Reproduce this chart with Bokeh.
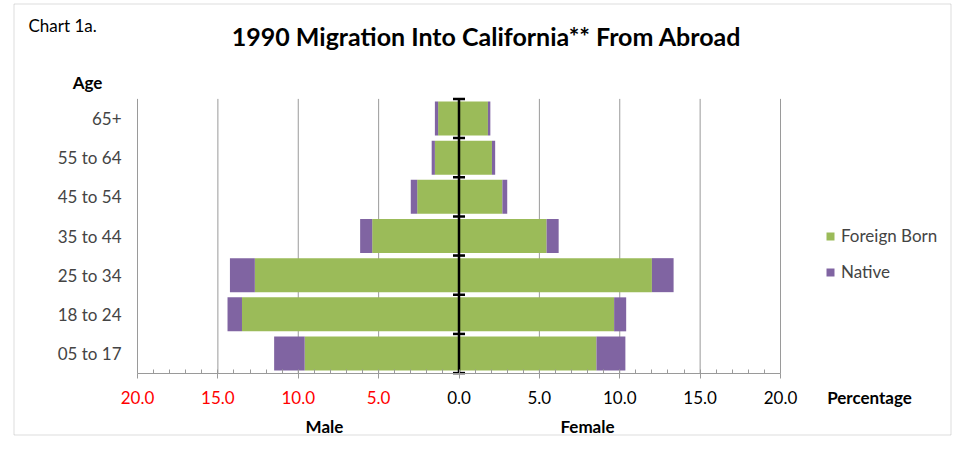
import numpy as np
from bokeh.plotting import figure
from bokeh.models import (Range1d, FixedTicker, Label, LinearAxis, Legend, LegendItem,
                          BoxAnnotation)
from bokeh.embed import file_html
from bokeh.resources import INLINE

# ---------------- data ----------------
ages = ["05 to 17", "18 to 24", "25 to 34", "35 to 44", "45 to 54", "55 to 64", "65+"]
male_foreign = [9.6, 13.5, 12.7, 5.4, 2.6, 1.5, 1.3]
male_native = [1.9, 0.9, 1.55, 0.75, 0.4, 0.2, 0.2]
female_foreign = [8.55, 9.65, 12.0, 5.45, 2.7, 2.05, 1.8]
female_native = [1.8, 0.75, 1.35, 0.75, 0.3, 0.2, 0.15]
grid_ticks = [-20, -15, -10, -5, 0, 5, 10, 15, 20]
minor_ticks = list(range(-20, 21))
pos_ticks = [0, 5, 10, 15, 20]
neg_ticks = [-20, -15, -10, -5]
tick_labels_pos = ["0.0", "5.0", "10.0", "15.0", "20.0"]
tick_labels_neg = ["20.0", "15.0", "10.0", "5.0"]

FONT = "Lato"
GREEN = "#9BBB59"
PURPLE = "#8064A2"
GRID = "#9A9A9A"

W, H = 952, 436
# plot area: x -20..20 -> px 137..780 ; y 0..7 -> px 372.6..98.4 (from top)
sx = 643 / 40.0
sy = 274.2 / 7.0
x0 = -20 - 137 / sx
x1 = 20 + (W - 780) / sx
y0 = -(H - 372.6) / sy
y1 = 7 + 98.4 / sy

p = figure(width=W, height=H, output_backend="svg", toolbar_location=None,
           x_range=Range1d(x0, x1), y_range=Range1d(y0, y1),
           min_border=0, x_axis_type=None, y_axis_type=None)
p.outline_line_color = None
p.background_fill_color = "white"
p.border_fill_color = "white"
p.grid.visible = False

n = len(ages)
yc = np.arange(n) + 0.5
mf = np.array(male_foreign)
mn = np.array(male_native)
ff = np.array(female_foreign)
fn = np.array(female_native)
bh = 0.868

# vertical gridlines over the plot area
gx = np.array(grid_ticks, dtype=float)
p.segment(x0=gx, y0=np.zeros_like(gx), x1=gx, y1=np.full_like(gx, n),
          line_color=GRID, line_width=1)

r_fb = p.hbar(y=yc, left=-mf, right=0, height=bh, fill_color=GREEN, line_color=None)
r_nat = p.hbar(y=yc, left=-(mf + mn), right=-mf, height=bh, fill_color=PURPLE, line_color=None)
p.hbar(y=yc, left=0, right=ff, height=bh, fill_color=GREEN, line_color=None)
p.hbar(y=yc, left=ff, right=ff + fn, height=bh, fill_color=PURPLE, line_color=None)

# bottom axis (black labels, ticks, minor ticks)
xa = LinearAxis(fixed_location=0, bounds=(-20, 20),
                ticker=FixedTicker(ticks=grid_ticks, minor_ticks=minor_ticks))
xa.major_label_overrides = {**{t: "" for t in neg_ticks},
                            **{t: l for t, l in zip(pos_ticks, tick_labels_pos)}}
xa.axis_line_color = GRID
xa.major_tick_line_color = GRID
xa.minor_tick_line_color = GRID
xa.major_tick_out = 5
xa.major_tick_in = 0
xa.minor_tick_in = 4
xa.minor_tick_out = 0
xa.major_label_standoff = 13
xa.major_label_text_font = FONT
xa.major_label_text_font_size = "17px"
xa.major_label_text_color = "black"
p.add_layout(xa, "below")

# bottom axis, red labels for the male side
xr = LinearAxis(fixed_location=0, bounds=(-20, 20), ticker=FixedTicker(ticks=neg_ticks))
xr.major_label_overrides = {t: l for t, l in zip(neg_ticks, tick_labels_neg)}
xr.axis_line_color = None
xr.major_tick_line_color = None
xr.minor_tick_line_color = None
xr.major_tick_out = 5
xr.major_tick_in = 0
xr.major_label_standoff = 13
xr.major_label_text_font = FONT
xr.major_label_text_font_size = "17px"
xr.major_label_text_color = "red"
p.add_layout(xr, "below")

# left axis with age categories
ya = LinearAxis(fixed_location=-20, bounds=(0, n), ticker=FixedTicker(ticks=list(yc)))
ya.major_label_overrides = {float(v): a for v, a in zip(yc, ages)}
ya.axis_line_color = None
ya.major_tick_line_color = None
ya.minor_tick_line_color = None
ya.major_tick_out = 0
ya.major_tick_in = 0
ya.major_label_standoff = 16
ya.major_label_text_font = FONT
ya.major_label_text_font_size = "17px"
p.add_layout(ya, "left")

# center axis line and its ticks
p.segment(x0=[0], y0=[0], x1=[0], y1=[n], line_color="black", line_width=2.5)
bounds = np.arange(n + 1)
p.dash(x=np.zeros(len(bounds)), y=bounds, size=12, line_width=2.5, line_color="black")

# texts
def lab(text, x, y, size="17px", bold=True, align="center"):
    p.add_layout(Label(text=text, x=x, y=H - y, x_units="screen", y_units="screen",
                       text_font=FONT, text_font_size=size,
                       text_font_style="bold" if bold else "normal",
                       text_align=align, text_baseline="middle", text_color="black"))

lab("1990 Migration Into California** From Abroad", 486, 35, size="25px")
lab("Chart 1a.", 28, 25, bold=False, align="left")
lab("Age", 87, 82)
lab("Percentage", 869, 397)
lab("Male", 324, 426)
lab("Female", 587, 426)

# legend
legend = Legend(items=[LegendItem(label="Foreign Born", renderers=[r_fb]),
                       LegendItem(label="Native", renderers=[r_nat])],
                location=(825, H - 282), padding=0, spacing=15, glyph_width=10, glyph_height=10,
                label_standoff=6, label_height=20, border_line_color=None,
                background_fill_alpha=0, label_text_font=FONT, label_text_font_size="17px")
p.add_layout(legend)

# outer border
p.add_layout(BoxAnnotation(left=13.5, right=950.5, top=3.5, bottom=434.5,
                           left_units="canvas", right_units="canvas",
                           top_units="canvas", bottom_units="canvas",
                           fill_alpha=0, line_color="#8A8A8A", line_width=1))

open("out.html", "w").write(file_html(p, INLINE))
